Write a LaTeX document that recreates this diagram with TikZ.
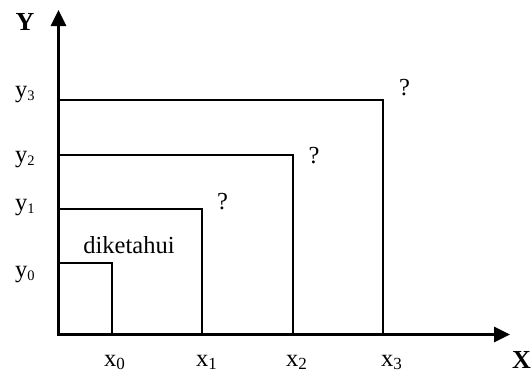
\documentclass[tikz,border=0pt]{standalone}
\usepackage{fontspec}
\setmainfont{Liberation Serif}
\usetikzlibrary{arrows.meta}
\newcommand{\xsub}[1]{{\fontsize{17}{17}\selectfont\raisebox{-3.5pt}{#1}}}
\newcommand{\ysub}[1]{{\fontsize{14.5}{14.5}\selectfont\raisebox{-3pt}{#1}}}
\begin{document}
\begin{tikzpicture}[x=1pt,y=-1pt,
  axis/.style={line width=3pt,-{Triangle[length=16pt,width=15pt]}},
  bound/.style={line width=2pt},
  lbl/.style={inner sep=0pt,font=\fontsize{24.5}{28}\selectfont},
  axlbl/.style={inner sep=0pt,font=\fontsize{26}{28}\selectfont\bfseries}]
\useasboundingbox (0,0) rectangle (532,373);
% axes
\coordinate (O) at (58.5,334.5);
\coordinate (Ytip) at (58.5,10);
\coordinate (Xtip) at (510,334.5);
% rectangle corners
\coordinate (ya) at (58,263);   \coordinate (ca) at (112,263); \coordinate (xa) at (112,335);
\coordinate (yb) at (58,209);   \coordinate (cb) at (202,209); \coordinate (xb) at (202,335);
\coordinate (yc) at (58,155);   \coordinate (cc) at (293,155); \coordinate (xc) at (293,335);
\coordinate (yd) at (58,100);   \coordinate (cd) at (383,100); \coordinate (xd) at (383,335);
\draw[bound] (ya) -- (ca) -- (xa);
\draw[bound] (yb) -- (cb) -- (xb);
\draw[bound] (yc) -- (cc) -- (xc);
\draw[bound] (yd) -- (cd) -- (xd);
\draw[axis] ([yshift=1.5pt]O) -- (Ytip);
\draw[axis] ([xshift=-1.5pt]O) -- (Xtip);
% axis labels
\node[axlbl,anchor=base] (LY) at (25,30) {Y};
\node[axlbl,anchor=base] (LX) at (521.5,368) {X};
% y labels
\node[lbl,anchor=base west] (ly3) at (15,97.5) {y\ysub{3}};
\node[lbl,anchor=base west] (ly2) at (15,162) {y\ysub{2}};
\node[lbl,anchor=base west] (ly1) at (15,210.5) {y\ysub{1}};
\node[lbl,anchor=base west] (ly0) at (15,277) {y\ysub{0}};
% x labels
\node[lbl,anchor=base west] (lx0) at (104,366) {x\xsub{0}};
\node[lbl,anchor=base west] (lx1) at (196,366) {x\xsub{1}};
\node[lbl,anchor=base west] (lx2) at (286,366) {x\xsub{2}};
\node[lbl,anchor=base west] (lx3) at (381,366) {x\xsub{3}};
% question marks
\node[lbl] (q1) at (222.5,202) {?};
\node[lbl] (q2) at (314,156) {?};
\node[lbl] (q3) at (404.5,88) {?};
% known
\node[lbl,anchor=base] (known) at (129,253) {diketahui};
\end{tikzpicture}
\end{document}
